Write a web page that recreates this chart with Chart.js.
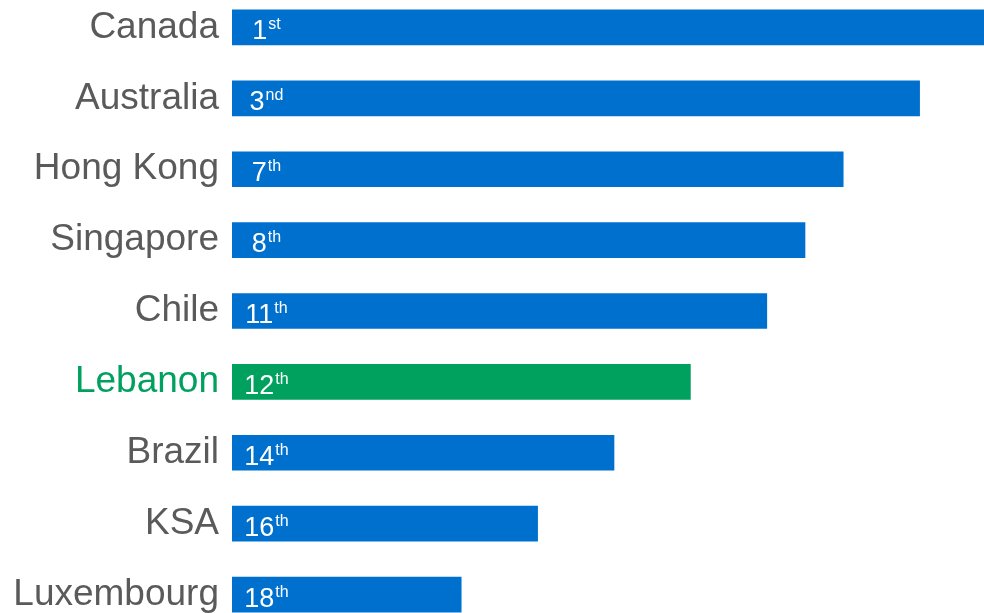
<!DOCTYPE html>
<html>
<head>
<meta charset="utf-8">
<script src="https://cdn.jsdelivr.net/npm/chart.js@4"></script>
<style>
  html, body { margin: 0; padding: 0; background: #fff; }
  #wrap { position: relative; width: 984px; height: 613px; overflow: hidden; }
  #chart { position: absolute; left: 0; top: -8px; }
</style>
</head>
<body>
<div id="wrap"><canvas id="chart" width="996" height="638"></canvas></div>
<script>
const countries = ['Canada', 'Australia', 'Hong Kong', 'Singapore', 'Chile', 'Lebanon', 'Brazil', 'KSA', 'Luxembourg'];
const scores = [20, 18, 16, 15, 14, 12, 10, 8, 6];
const ranks = ['1', '3', '7', '8', '11', '12', '14', '16', '18'];
const suffixes = ['st', 'nd', 'th', 'th', 'th', 'th', 'th', 'th', 'th'];
const highlight = 'Lebanon';

const BLUE = '#0070cf';
const GREEN = '#00a05f';
const GREY = '#5a5a5a';
const FONT = '"Liberation Sans", Arial, Helvetica, sans-serif';

// rank badge ("12th") drawn near the start of each bar
const rankLabels = {
  id: 'rankLabels',
  afterDatasetsDraw(chart){
    const ctx = chart.ctx;
    const meta = chart.getDatasetMeta(0);
    ctx.save();
    ctx.fillStyle = '#fff';
    ctx.textBaseline = 'alphabetic';
    ctx.textAlign = 'left';
    meta.data.forEach((bar, i)=>{
      const base = bar.base;
      const baseline = bar.y + 12;
      ctx.font = '27px ' + FONT;
      const nw = ctx.measureText(ranks[i]).width;
      ctx.font = '16px ' + FONT;
      const sw = ctx.measureText(suffixes[i]).width;
      const x0 = base + 34 - (nw + sw) / 2;
      ctx.font = '27px ' + FONT;
      ctx.fillText(ranks[i], x0, baseline);
      ctx.font = '16px ' + FONT;
      ctx.fillText(suffixes[i], x0 + nw + 1, baseline - 10);
    });
    ctx.restore();
  }
};

new Chart(document.getElementById('chart'), {
  type: 'bar',
  data: {
    labels: countries,
    datasets: [{
      data: scores,
      backgroundColor: countries.map(c => c === highlight ? GREEN : BLUE),
      borderWidth: 0,
      barThickness: 35
    }]
  },
  options: {
    indexAxis: 'y',
    responsive: false,
    animation: false,
    events: [],
    layout: { padding: 0 },
    plugins: { legend: { display: false }, tooltip: { enabled: false } },
    scales: {
      x: { display: false, min: 0, max: 20 },
      y: {
        grid: { display: false, drawTicks: false },
        border: { display: false },
        afterFit(axis){
          axis.width = 232;
          // bands fill the whole canvas height, no room kept for label overhang
          axis.paddingTop = 0;
          axis.paddingBottom = 0;
        },
        ticks: {
          padding: 13,
          font: { family: FONT, size: 37 },
          color: ctx => countries[ctx.index] === highlight ? GREEN : GREY
        }
      }
    }
  },
  plugins: [rankLabels]
});
</script>
</body>
</html>
